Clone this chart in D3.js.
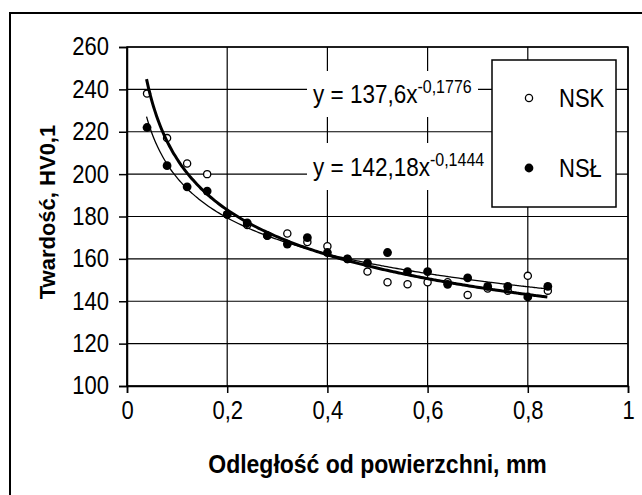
<!DOCTYPE html>
<html><head><meta charset="utf-8">
<script src="https://cdn.jsdelivr.net/npm/d3@7/dist/d3.min.js"></script>
<style>body{margin:0;background:#fff}svg{display:block}</style>
</head><body><svg id="c" width="642" height="495"></svg>
<script>
const xValues = [0.04,0.08,0.12,0.16,0.20,0.24,0.28,0.32,0.36,0.40,0.44,0.48,0.52,0.56,0.60,0.64,0.68,0.72,0.76,0.80,0.84];
const nskValues = [238,217,205,200,181,176,171,172,168,166,160,154,149,148,149,149,143,146,145,152,145];
const nslValues = [222,204,194,192,181,177,171,167,170,163,160,158,163,154,154,148,151,147,147,142,147];
const seriesNames = ["NSK","NSŁ"];
const trendNSK = {a:137.6, b:-0.1776, label:"y = 137,6x", exp:"-0,1776"};
const trendNSL = {a:142.18, b:-0.1444, label:"y = 142,18x", exp:"-0,1444"};
const xTicks = [0,0.2,0.4,0.6,0.8,1];
const xTickLabels = ["0","0,2","0,4","0,6","0,8","1"];
const yTicks = [100,120,140,160,180,200,220,240,260];
const xTitle = "Odległość od powierzchni, mm";
const yTitle = "Twardość, HV0,1";

const svg = d3.select("#c");
const font = "'Liberation Sans', Arial, sans-serif";
const SY = 1.13; // slight vertical stretch of the condensed screen font
const L=127, R=628, T=47, B=386;
const x = d3.scaleLinear().domain([0,1]).range([L,R]);
const y = d3.scaleLinear().domain([100,260]).range([B,T]);

// outer frame
svg.append("rect").attr("x",10).attr("y",13).attr("width",700).attr("height",600)
  .attr("fill","#fff").attr("stroke","#000").attr("stroke-width",2);

// gridlines
const g = svg.append("g");
g.selectAll(".hg").data(yTicks).join("line").attr("x1",L).attr("x2",R)
  .attr("y1",d=>y(d)).attr("y2",d=>y(d)).attr("stroke","#000").attr("stroke-width",1.2);
g.selectAll(".vg").data(xTicks).join("line").attr("y1",T).attr("y2",B)
  .attr("x1",d=>x(d)).attr("x2",d=>x(d)).attr("stroke","#000").attr("stroke-width",1.2);

// axes
const xa = svg.append("g").attr("transform",`translate(0,${B})`)
  .call(d3.axisBottom(x).tickValues(xTicks).tickFormat((d,i)=>xTickLabels[i]).tickSize(7).tickPadding(7));
const ya = svg.append("g").attr("transform",`translate(${L},0)`)
  .call(d3.axisLeft(y).tickValues(yTicks).tickSize(8).tickPadding(10));
[xa,ya].forEach(a=>{
  a.select(".domain").attr("stroke","#000").attr("stroke-width",1.5);
  a.selectAll(".tick line").attr("stroke","#000").attr("stroke-width",1.5);
  a.selectAll(".tick text").attr("font-family",font).attr("font-size",22).attr("fill","#000")
    .attr("transform",`scale(1,${SY})`);
});
svg.append("rect").attr("x",L).attr("y",T).attr("width",R-L).attr("height",B-T)
  .attr("fill","none").attr("stroke","#000").attr("stroke-width",1.5);

// markers
const pts = svg.append("g");
pts.selectAll(".nsk").data(xValues).join("circle")
  .attr("cx",d=>x(d)).attr("cy",(d,i)=>y(nskValues[i])).attr("r",3.6)
  .attr("fill","#fff").attr("stroke","#000").attr("stroke-width",1.3);
pts.selectAll(".nsl").data(xValues).join("circle")
  .attr("cx",d=>x(d)).attr("cy",(d,i)=>y(nslValues[i])).attr("r",4.4)
  .attr("fill","#000");

// trendlines
const xr = d3.range(0.039,0.8401,0.004);
const line = d3.line().x(d=>x(d[0])).y(d=>y(d[1])).curve(d3.curveMonotoneX);
svg.append("path").datum(xr.map(v=>[v,trendNSL.a*Math.pow(v,trendNSL.b)]))
  .attr("d",line).attr("fill","none").attr("stroke","#000").attr("stroke-width",1.3);
svg.append("path").datum(xr.map(v=>[v,trendNSK.a*Math.pow(v,trendNSK.b)]))
  .attr("d",line).attr("fill","none").attr("stroke","#000").attr("stroke-width",3);

// equation labels
function eq(t, bx, by, bw, bh, tx, ty){
  svg.append("rect").attr("x",bx).attr("y",by).attr("width",bw).attr("height",bh).attr("fill","#fff");
  const tt = svg.append("text").attr("transform",`translate(${tx},${ty}) scale(1,${SY})`)
    .attr("font-family",font).attr("font-size",22.5).attr("fill","#000");
  tt.append("tspan").text(t.label);
  tt.append("tspan").attr("dy",-9).attr("font-size",16).text(t.exp);
}
eq(trendNSK, 307,71,171,46, 313,103);
eq(trendNSL, 307,143,185,47, 313,176);

// legend
svg.append("rect").attr("x",492).attr("y",60).attr("width",124).attr("height",147)
  .attr("fill","#fff").attr("stroke","#000").attr("stroke-width",1.5);
const leg = [{n:seriesNames[0],cy:98,open:true},{n:seriesNames[1],cy:168,open:false}];
leg.forEach(l=>{
  svg.append("circle").attr("cx",529).attr("cy",l.cy).attr("r",l.open?3.6:4.4)
    .attr("fill",l.open?"#fff":"#000").attr("stroke","#000").attr("stroke-width",l.open?1.3:0);
  svg.append("text").attr("transform",`translate(559,${l.cy}) scale(1,${SY})`)
    .attr("dy","0.36em").attr("font-family",font).attr("font-size",22).text(l.n);
});

// titles
svg.append("text").attr("transform",`translate(${(L+R)/2},473) scale(1,${SY})`).attr("text-anchor","middle")
  .attr("font-family",font).attr("font-weight","bold").attr("font-size",23).text(xTitle);
svg.append("text").attr("transform","translate(55,212) rotate(-90)").attr("text-anchor","middle")
  .attr("font-family",font).attr("font-weight","bold").attr("font-size",22).text(yTitle);
</script></body></html>
